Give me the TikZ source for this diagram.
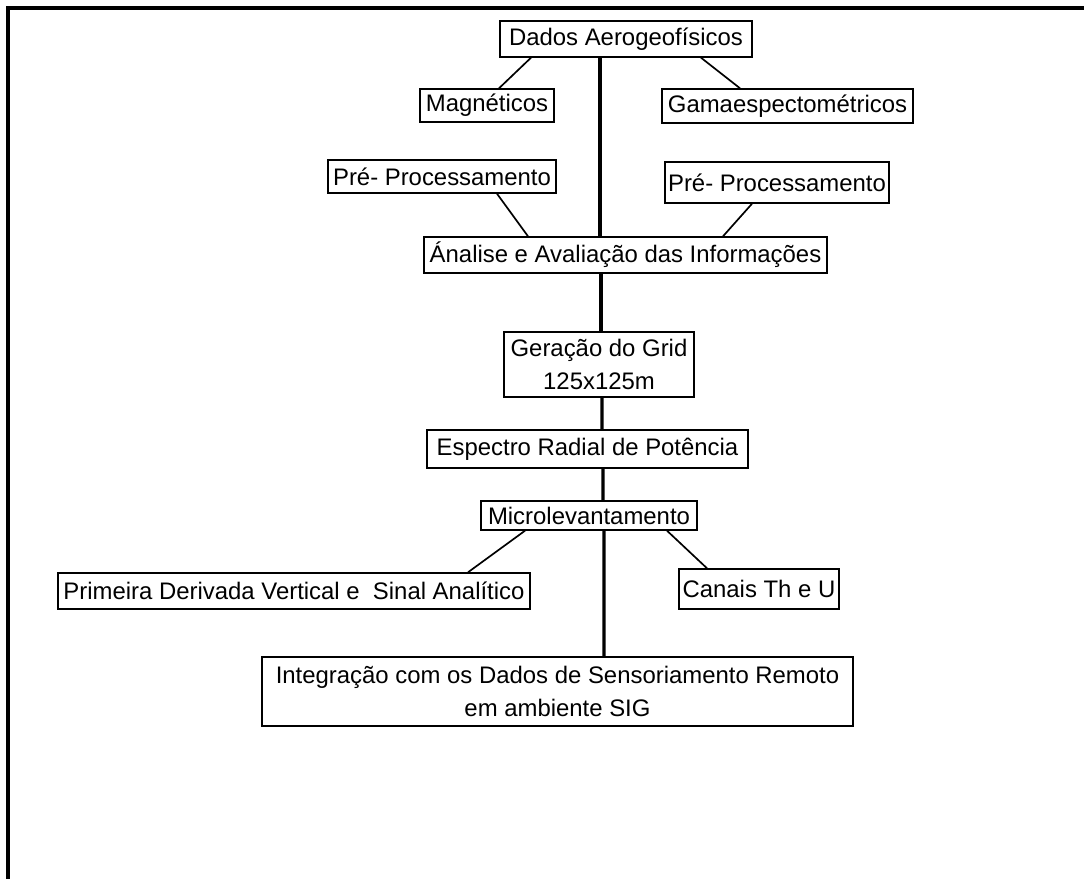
\documentclass[tikz,border=0pt]{standalone}
\usepackage{fontspec}
\setmainfont{Liberation Sans}
\usetikzlibrary{calc,positioning}

\begin{document}
\begin{tikzpicture}[x=0.025cm, y=-0.025cm,
    box/.style={draw, line width=1pt, inner sep=0pt, align=center, font=\fontsize{17}{23.5}\selectfont},
    link/.style={line width=1.2pt},
    trunk/.style={line width=2.2pt}]
                        \useasboundingbox (0,0) rectangle (1084,879);
                        \draw[line width=2.8pt] (8,879) -- (8,8) -- (1084,8);

                        \node[box, minimum width=6.3cm, minimum height=0.9cm] (dados) at (626, 39) {Dados Aerogeofísicos};
                        \node[box, minimum width=3.35cm, minimum height=0.825cm] (mag) at (487, 105.5) {Magnéticos};
                        \node[box, minimum width=6.275cm, minimum height=0.85cm] (gama) at (787.5, 106) {Gamaespectométricos};
                        \node[box, minimum width=5.7cm, minimum height=0.825cm] (prea) at (442, 176.5) {Pré- Processamento};
                        \node[box, minimum width=5.6cm, minimum height=1.025cm] (preb) at (777, 182.5) {Pré- Processamento};
                        \node[box, minimum width=10.075cm, minimum height=0.9cm] (analise) at (625.5, 255) {Ánalise e Avaliação das Informações};

                        \node[box, minimum width=4.75cm, minimum height=1.625cm] (grid) at (599, 364.5) {Geração do Grid\\125x125m};
                        \node[box, minimum width=8.025cm, minimum height=0.95cm] (espectro) at (587.5, 449) {Espectro Radial de Potência};
                        \node[box, minimum width=5.4cm, minimum height=0.725cm] (micro) at (589, 515.5) {Microlevantamento};

                        \node[box, minimum width=11.8cm, minimum height=0.9cm] (primeira) at (294, 591) {Primeira Derivada Vertical e\ \ Sinal Analítico};
                        \node[box, minimum width=4cm, minimum height=1cm] (canais) at (759, 589) {Canais Th e U};
                        \node[box, minimum width=14.775cm, minimum height=1.725cm] (integ) at (557.5, 691.5) {Integração com os Dados de Sensoriamento Remoto\\em ambiente SIG};

                        \draw[link]
                        ($(dados.south)+(-95,0)$) edge ($(mag.north)+(12,0)$)
                        ($(dados.south)+(75,0)$) edge ($(gama.north)+(-47.5,0)$)
                        ($(prea.south)+(55,0)$) edge ($(analise.north)+(-97.5,0)$)
                        ($(preb.south)+(-25,0)$) edge ($(analise.north)+(97.5,0)$)
                        ($(micro.south)+(-64,0)$) edge ($(primeira.north)+(174,0)$)
                        ($(micro.south)+(78,0)$) edge ($(canais.north)+(-52,0)$);

                        \draw[trunk]
                        ($(dados.south)+(-26,0)$) edge ($(analise.north)+(-25.5,0)$)
                        ($(analise.south)+(-24.5,0)$) edge ($(grid.north)+(2,0)$)
                        ($(grid.south)+(3,0)$) edge ($(espectro.north)+(14.5,0)$)
                        ($(espectro.south)+(15.5,0)$) edge ($(micro.north)+(14,0)$)
                        ($(micro.south)+(15,0)$) edge ($(integ.north)+(46.5,0)$);
                    \end{tikzpicture}
\end{document}
